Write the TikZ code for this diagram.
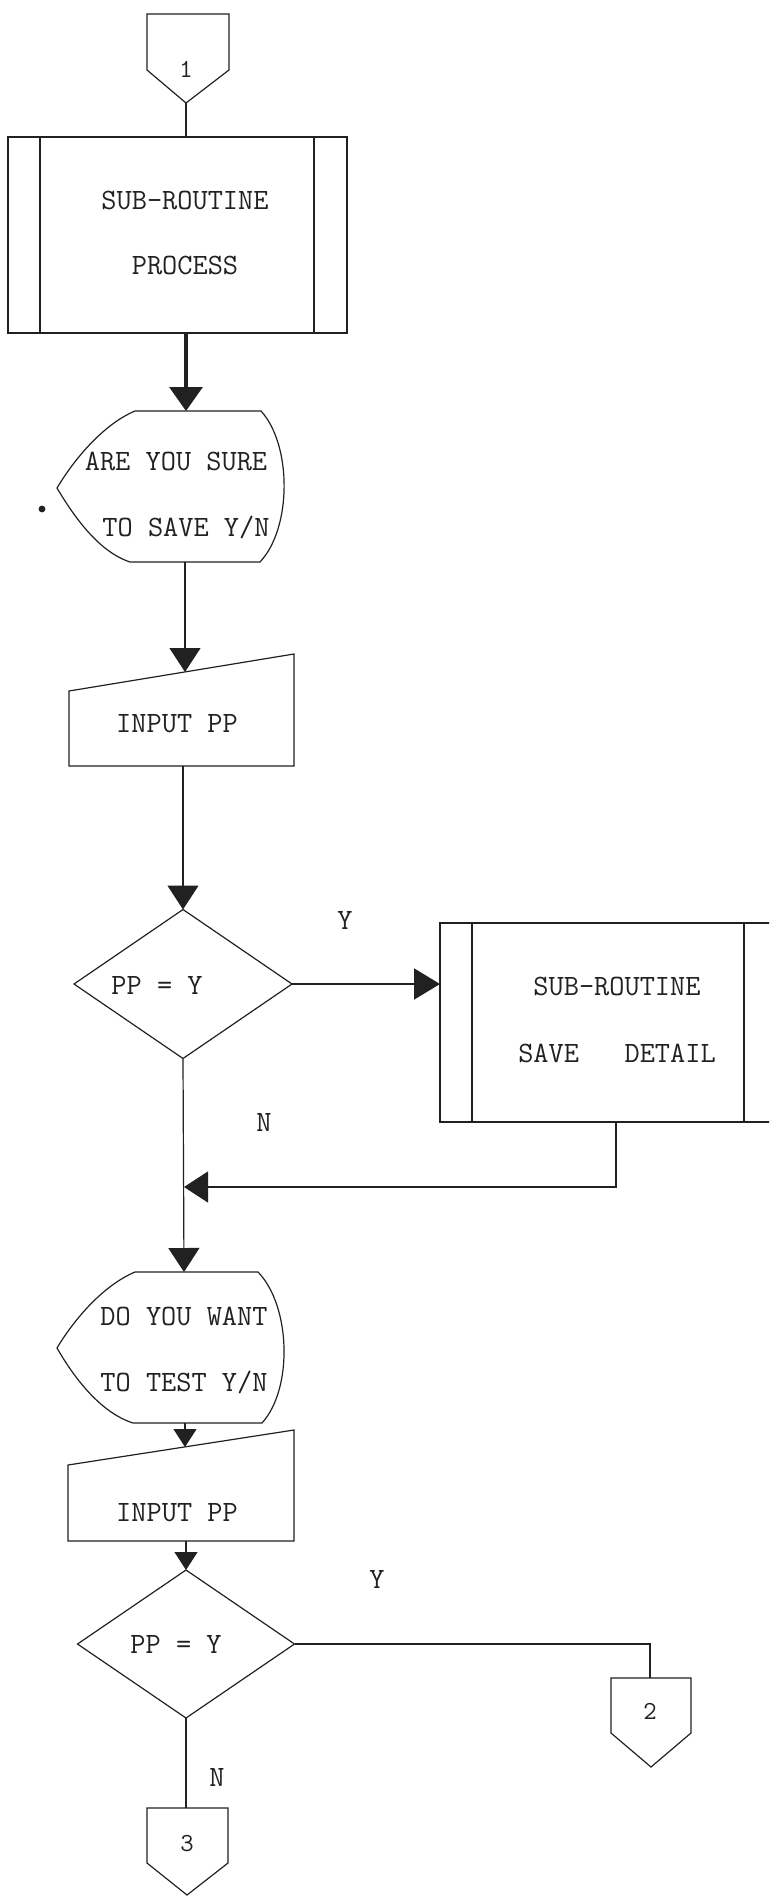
\documentclass[tikz,border=0pt]{standalone}
\usepackage{fontspec}
\usetikzlibrary{arrows.meta,calc,shapes.geometric}
\definecolor{ink}{gray}{0.13}
\begin{document}
\begin{tikzpicture}[x=1pt,y=-1pt,
  line join=miter, color=ink,
  outline/.style={draw=ink, line width=1.2pt},
  lbl/.style={font=\fontsize{29.5}{31}\selectfont\ttfamily, text=ink, inner sep=0pt, anchor=base},
  num/.style={font=\fontsize{26}{28}\selectfont\ttfamily, text=ink, inner sep=0pt, anchor=base},
  flow/.style={line width=1.2pt, -{Triangle[length=24pt,width=31pt]}},
  flowsmall/.style={line width=1.2pt, -{Triangle[length=18pt,width=23pt]}},
  link/.style={line width=1.2pt},
  procbox/.style={draw=ink, line width=1.2pt, inner sep=0pt, outer sep=0pt},
  decision/.style={diamond, draw=ink, line width=1.2pt, inner sep=0pt, outer sep=0pt}
]
\useasboundingbox (0,0) rectangle (769,1897);
\clip (0,0) rectangle (769,1897);

% ---------- off-page connector 1 ----------
\draw[outline] (147,14) -- (229,14) -- (229,70) -- (186,103) -- (147,70) -- cycle;
\node[num] (n1) at (186,78) {1};
\coordinate (c1out) at (186,103);

% ---------- predefined process: SUB-ROUTINE PROCESS ----------
\node[procbox, minimum width=339pt, minimum height=196pt] (sub1) at (177.5,235) {};
\draw[link] ($(sub1.north west)+(32,0)$) -- ($(sub1.south west)+(32,0)$);
\draw[link] ($(sub1.north east)+(-33,0)$) -- ($(sub1.south east)+(-33,0)$);
\node[lbl] (sub1a) at (185,209) {SUB-ROUTINE};
\node[lbl] (sub1b) at (185,274) {PROCESS};
\draw[link] (c1out) -- (c1out |- sub1.north);

% ---------- display: ARE YOU SURE TO SAVE Y/N ----------
\coordinate (disp1top) at (186,411);
\coordinate (disp1bot) at (185,562);
\draw[outline] (135,411) -- (261,411)
  .. controls (292,445) and (292,528) .. (260,562)
  -- (130,562)
  .. controls (100,552) and (76,520) .. (57,488)
  .. controls (75,458) and (104,424) .. cycle;
\node[lbl] (disp1a) at (176,470) {ARE YOU SURE};
\node[lbl] (disp1b) at (186,536) {TO SAVE Y/N};
\fill[ink] (42,509) circle (3.4pt);
\draw[line width=3.2pt, -{Triangle[length=24pt,width=33pt]}] (disp1top |- sub1.south) -- (disp1top);

% ---------- manual input: INPUT PP ----------
\draw[outline] (69,691) -- (294,654) -- (294,766) -- (69,766) -- cycle;
\coordinate (in1top) at (185,672);
\coordinate (in1bot) at (184,766);
\node[lbl] (in1) at (177,732) {INPUT PP};
\draw[flow] (disp1bot) -- (in1top);

% ---------- decision: PP = Y ----------
\node[decision, minimum width=218pt, minimum height=149pt] (d1) at (183,984) {};
\node[lbl] (d1t) at (157,994) {PP = Y};
\draw[flow] (in1bot -| d1.north) -- (d1.north);
\node[lbl] (d1y) at (345,929) {Y};
\node[lbl] (d1n) at (264,1131) {N};

% ---------- predefined process: SUB-ROUTINE SAVE DETAIL ----------
\node[procbox, minimum width=345pt, minimum height=199pt] (sub2) at (612.5,1022.5) {};
\draw[link] (472,923) -- (472,1122);
\draw[link] (744,923) -- (744,1122);
\node[lbl] (sub2a) at (617,995) {SUB-ROUTINE};
\node[lbl] (sub2b) at (617,1062) {SAVE\ \ \ DETAIL};
\draw[line width=2pt, -{Triangle[length=26pt,width=31pt]}] (d1.east) -- (sub2.west |- d1.east);

% ---------- return path into the main column ----------
\coordinate (sub2out) at (616,1122);
\coordinate (merge) at (184,1187);
\draw[flow] (sub2out) -- (sub2out |- merge) -- (merge);

% ---------- display: DO YOU WANT TO TEST Y/N ----------
\coordinate (disp2top) at (184,1272);
\coordinate (disp2bot) at (185,1423);
\draw[outline] (135,1272) -- (258,1272)
  .. controls (291,1306) and (293,1389) .. (262,1423)
  -- (133,1423)
  .. controls (102,1413) and (76,1381) .. (57,1348)
  .. controls (75,1318) and (104,1285) .. cycle;
\node[lbl] (disp2a) at (184,1325) {DO YOU WANT};
\node[lbl] (disp2b) at (184,1391) {TO TEST Y/N};
\draw[flow] (d1.south) -- (disp2top);

% ---------- manual input: INPUT PP ----------
\draw[outline] (68,1465) -- (294,1430) -- (294,1541) -- (68,1541) -- cycle;
\coordinate (in2top) at (185,1447);
\coordinate (in2bot) at (186,1541);
\node[lbl] (in2) at (177,1521) {INPUT PP};
\draw[flowsmall] (disp2bot) -- (in2top);

% ---------- decision: PP = Y ----------
\node[decision, minimum width=217pt, minimum height=148pt] (d2) at (186,1644) {};
\node[lbl] (d2t) at (176,1653) {PP = Y};
\draw[flowsmall] (in2bot) -- (d2.north);
\node[lbl] (d2y) at (377,1588) {Y};
\node[lbl] (d2n) at (217,1786) {N};

% ---------- off-page connector 2 ----------
\draw[outline] (611,1678) -- (691,1678) -- (691,1733) -- (651,1767) -- (611,1733) -- cycle;
\coordinate (c2in) at (650,1678);
\node[num] (n2) at (650,1719) {2};
\draw[line width=1.6pt] (d2.east) -- (c2in |- d2.east) -- (c2in);

% ---------- off-page connector 3 ----------
\draw[outline] (147,1808) -- (228,1808) -- (228,1863) -- (187,1895) -- (147,1863) -- cycle;
\coordinate (c3in) at (186,1808);
\node[num] (n3) at (187,1851) {3};
\draw[link] (d2.south) -- (c3in);

\end{tikzpicture}
\end{document}
